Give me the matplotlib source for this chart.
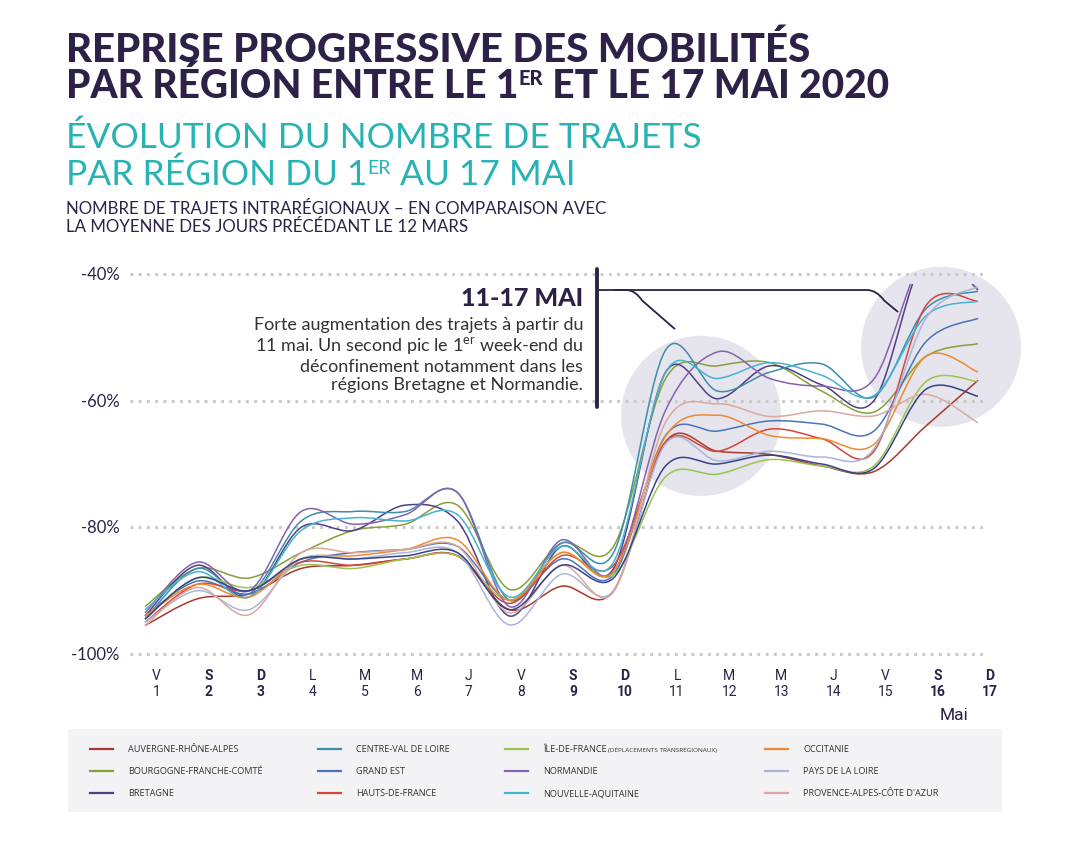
import numpy as np
import matplotlib
matplotlib.use("Agg")
import matplotlib.pyplot as plt
from matplotlib.path import Path
from matplotlib.patches import PathPatch, Ellipse, Rectangle
from matplotlib.lines import Line2D

# ---------------- données ----------------
days = list(range(1, 18))
day_letters = ["V", "S", "D", "L", "M", "M", "J", "V", "S", "D", "L", "M", "M", "J", "V", "S", "D"]
weekend = [d in (2, 3, 9, 10, 16, 17) for d in days]

regions = [
    "AUVERGNE-RHÔNE-ALPES", "BOURGOGNE-FRANCHE-COMTÉ", "BRETAGNE",
    "CENTRE-VAL DE LOIRE", "GRAND EST", "HAUTS-DE-FRANCE",
    "ÎLE-DE-FRANCE", "NORMANDIE", "NOUVELLE-AQUITAINE",
    "OCCITANIE", "PAYS DE LA LOIRE", "PROVENCE-ALPES-CÔTE D'AZUR",
]
colors = [
    "#a8392c", "#86a03a", "#4f3f86",
    "#3d8dab", "#4a74b8", "#d5463a",
    "#9cc450", "#8562b0", "#45b4d0",
    "#f08a30", "#a9b5da", "#dba9a1",
]

auvergne = [-95.5, -91.3, -90.5, -86.5, -86, -85, -84.5, -93, -89.3, -90, -66.5, -68, -68.5, -70.3, -71.2, -64, -56.8]
bourgogne = [-92.5, -86.5, -88, -84, -80.5, -79.5, -76.5, -89.8, -82.5, -83, -56.5, -54.5, -54, -58.5, -61.8, -53, -51]
bretagne = [-94, -86, -91, -80, -80.5, -76.5, -79, -94, -83, -86.5, -55.5, -59.7, -54.5, -57.5, -60, -37, -42.5]
centre = [-94.5, -86.5, -90.5, -79, -77.5, -77.5, -74.5, -91.5, -82.5, -84, -52, -58.5, -55.5, -54.2, -59.4, -45.5, -42.7]
grand_est = [-94, -88.5, -90.5, -85.5, -84, -83.5, -83, -91.5, -85, -87.5, -65.5, -64.8, -63.2, -63.7, -64.8, -50.7, -47]
hauts = [-95, -89, -90, -85.5, -86, -85, -84.5, -92, -84.5, -86, -66.5, -68, -64.5, -66, -68, -45, -44.3]
idf = [-94.5, -88, -89.5, -86, -86.5, -85, -84.5, -91.5, -84, -87.5, -72, -71.6, -69.3, -70.3, -70.3, -57, -57]
normandie = [-93.5, -85.5, -90, -77.5, -79.5, -78, -74.5, -92.5, -82, -87, -61.5, -52.3, -56.5, -57.7, -56.6, -37, -42.5]
aquitaine = [-93, -87, -91, -80.5, -78.5, -79, -78, -91, -83, -85.5, -55.5, -56.5, -54, -56, -59.2, -46.6, -44.3]
occitanie = [-94, -89, -91, -85, -84.5, -83.5, -82, -91.5, -84, -87, -65.6, -62.3, -65.5, -66, -66.9, -53, -55.5]
pays_loire = [-95, -90, -93, -85, -85, -84, -84, -95.4, -87.4, -90, -66.8, -69.5, -68, -68.9, -67.6, -47, -42]
paca = [-95.5, -89.5, -93.8, -84, -84, -83.5, -83, -93.5, -86, -90.2, -63.4, -60.5, -62.5, -61.6, -62.4, -59, -63.5]
# courbe bleu foncé visible sur le graphique mais absente de la légende
sans_legende = [-94.5, -88, -90, -85, -85, -84.5, -84, -93, -86, -88, -70.3, -70, -68.6, -70, -70.7, -58.2, -59.3]

series = [auvergne, bourgogne, bretagne, centre, grand_est, hauts,
          idf, normandie, aquitaine, occitanie, pays_loire, paca]

yticks = [-40, -60, -80, -100]

DARK = "#2e2147"
TEAL = "#27b2b4"
W, H = 1065, 845
SANS = ["Lato", "DejaVu Sans"]


def fx(x):
    return x / W


def fy(y):
    return 1 - y / H


def smooth_path(xs, ys):
    # courbe lissée (catmull-rom -> bezier cubique)
    pts = np.column_stack([xs, ys]).astype(float)
    ext = np.vstack([pts[0], pts, pts[-1]])
    verts = [pts[0]]
    codes = [Path.MOVETO]
    for i in range(1, len(ext) - 2):
        p0, p1, p2, p3 = ext[i - 1], ext[i], ext[i + 1], ext[i + 2]
        c1 = p1 + (p2 - p0) / 6
        c2 = p2 - (p3 - p1) / 6
        verts += [c1, c2, p2]
        codes += [Path.CURVE4] * 3
    return Path(verts, codes)


fig = plt.figure(figsize=(10.65, 8.45), dpi=100)
fig.patch.set_facecolor("white")
renderer = fig.canvas.get_renderer()


def chain_text(x, y, parts, **kw):
    # morceaux de texte enchaînés sur une même ligne de base (pour les exposants)
    cur = x
    for txt, size, rise in parts:
        t = fig.text(fx(cur), fy(y - rise), txt, ha="left", va="baseline", fontsize=size, **kw)
        cur = t.get_window_extent(renderer).x1


ax = fig.add_axes([fx(130), fy(662), fx(988) - fx(130), fy(268) - fy(662)])
ax.set_xlim(1 - 15 / 52.06, 17 + 10 / 52.06)
ax.set_ylim(-100 - 7 / 6.33, -40 + 7 / 6.33)
ax.axis("off")

# grille pointillée
for t in yticks:
    ax.plot([ax.get_xlim()[0], ax.get_xlim()[1]], [t, t], color="#c9c9c9",
            lw=2.2, linestyle=(0, (0.9, 1.8)), zorder=1, solid_capstyle="butt")
    ax.text(-0.012, t, f"{t}%", transform=ax.get_yaxis_transform(), ha="right",
            va="center", fontsize=12, color=DARK, family=SANS)

# cercles gris
ax.add_patch(Ellipse((11.68, -62.4), 160 / 52.06, 160 / 6.33, color="#e6e4ed", zorder=0, lw=0))
ax.add_patch(Ellipse((16.29, -51.5), 160 / 52.06, 160 / 6.33, color="#e6e4ed", zorder=0, lw=0, clip_on=False))

clip = Rectangle((0, -101.5), 20, 101.5 - 41.6, transform=ax.transData)
for vals, c in zip(series + [sans_legende], colors + ["#34448a"]):
    p = PathPatch(smooth_path(days, vals), fill=False, edgecolor=c, lw=1.1, zorder=3)
    ax.add_patch(p)
    p.set_clip_path(clip)

# libellés des jours
for d, l, we in zip(days, day_letters, weekend):
    fw = "bold" if we else "normal"
    ax.text(d + 0.22, -0.036, l, transform=ax.get_xaxis_transform(), ha="center", va="center",
            fontsize=10, fontweight=fw, color=DARK, family=["Roboto", "DejaVu Sans"])
    ax.text(d + 0.22, -0.076, str(d), transform=ax.get_xaxis_transform(), ha="center", va="center",
            fontsize=10, fontweight=fw, color=DARK, family=["Roboto", "DejaVu Sans"])
fig.text(fx(968), fy(716), "Mai", ha="right", va="center", fontsize=12.5, color=DARK,
         family=["Roboto", "DejaVu Sans"])

# annotation 11-17 mai
ax.plot([9.682, 9.682], [-39.2, -61.0], color=DARK, lw=2.8, solid_capstyle="round", clip_on=False, zorder=4)
br = Path([(9.682, -42.53), (14.87, -42.53), (15.05, -42.53), (15.2, -44.2), (15.464, -46.0)],
          [Path.MOVETO, Path.LINETO, Path.CURVE3, Path.CURVE3, Path.LINETO])
ax.add_patch(PathPatch(br, fill=False, edgecolor=DARK, lw=1.3, clip_on=False, zorder=4))
br2 = Path([(10.0, -42.53), (10.26, -42.53), (10.42, -42.6), (10.55, -44.2), (11.18, -48.7)],
           [Path.MOVETO, Path.LINETO, Path.CURVE3, Path.CURVE3, Path.LINETO])
ax.add_patch(PathPatch(br2, fill=False, edgecolor=DARK, lw=1.3, clip_on=False, zorder=4))

fig.text(fx(583), fy(298), "11-17 MAI", ha="right", va="center", fontsize=18, fontweight="black",
         color=DARK, family=SANS)
fig.text(fx(583), fy(317),
         "Forte augmentation des trajets à partir du\n"
         "11 mai. Un second pic le 1$^{\\mathregular{er}}$ week-end du\n"
         "déconfinement notamment dans les\n"
         "régions Bretagne et Normandie.",
         ha="right", va="top", ma="right", fontsize=13, color="#333333", linespacing=1.15,
         family=SANS)

# titres
title_kw = dict(fontweight="black", color=DARK, family=SANS)
fig.text(fx(66), fy(62), "REPRISE PROGRESSIVE DES MOBILITÉS", ha="left", va="baseline",
         fontsize=29, **title_kw)
chain_text(66, 98, [("PAR RÉGION ENTRE LE 1", 28, 0), ("ER", 14.5, 13),
                    (" ET LE 17 MAI 2020", 28, 0)], **title_kw)
sub_kw = dict(color=TEAL, family=SANS)
fig.text(fx(66), fy(148), "ÉVOLUTION DU NOMBRE DE TRAJETS", ha="left", va="baseline",
         fontsize=25.5, **sub_kw)
chain_text(66, 185, [("PAR RÉGION DU 1", 25.5, 0), ("ER", 14, 10.5),
                     (" AU 17 MAI", 25.5, 0)], **sub_kw)
fig.text(fx(66), fy(214), "NOMBRE DE TRAJETS INTRARÉGIONAUX – EN COMPARAISON AVEC", ha="left",
         va="baseline", fontsize=12.2, color=DARK, family=SANS)
fig.text(fx(66), fy(232), "LA MOYENNE DES JOURS PRÉCÉDANT LE 12 MARS", ha="left", va="baseline",
         fontsize=12.2, color=DARK, family=SANS)

# légende
fig.add_artist(Rectangle((fx(68), fy(813)), fx(1002) - fx(68), fy(730) - fy(813),
                         transform=fig.transFigure, color="#f3f3f6", lw=0, zorder=0))
col_x = [90, 318, 505, 765]
row_y = [750, 772, 794]
for i, (name, c) in enumerate(zip(regions, colors)):
    cx, ry = col_x[i // 3], row_y[i % 3]
    fig.add_artist(Line2D([fx(cx), fx(cx + 23)], [fy(ry), fy(ry)], transform=fig.transFigure,
                          color=c, lw=1.6))
    fig.text(fx(cx + 38), fy(ry), name, ha="left", va="center", fontsize=6.6,
             color="#333333", family=["Open Sans", "DejaVu Sans"])
    if name == "ÎLE-DE-FRANCE":
        fig.text(fx(608), fy(ry + 0.5), "(DÉPLACEMENTS TRANSRÉGIONAUX)", ha="left", va="center",
                 fontsize=4.6, color="#333333", family=["Open Sans", "DejaVu Sans"])

fig.savefig("out.png", dpi=100)
